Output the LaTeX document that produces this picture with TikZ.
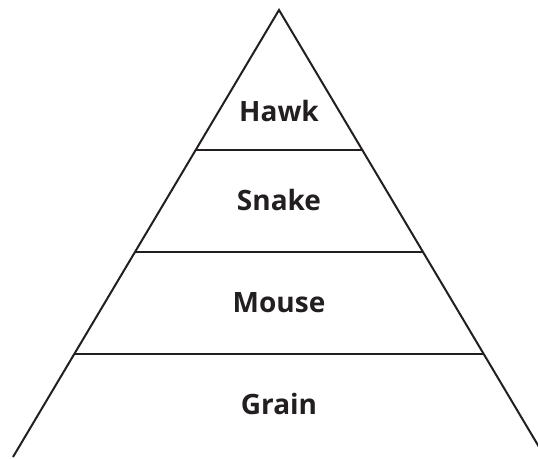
\documentclass[tikz,border=0pt]{standalone}
\usepackage{fontspec}
\setsansfont{Open Sans}
\usetikzlibrary{calc}
\definecolor{ink}{HTML}{231F20}
\begin{document}
\begin{tikzpicture}[x=1pt,y=1pt,
  edge/.style={line width=2pt,ink},
  level/.style={anchor=base,font=\sffamily\bfseries\fontsize{28}{30}\selectfont,text=ink}]
  \useasboundingbox (0,0) rectangle (538,458);
  \clip (0,0) rectangle (538,458);

  \coordinate (A) at (279,448);
  \coordinate (L) at (13,1);
  \coordinate (R) at (545,1);

  \coordinate (L1) at ($(A)!0.3132!(L)$);
  \coordinate (R1) at ($(A)!0.3132!(R)$);
  \coordinate (L2) at ($(A)!0.5414!(L)$);
  \coordinate (R2) at ($(A)!0.5414!(R)$);
  \coordinate (L3) at ($(A)!0.7685!(L)$);
  \coordinate (R3) at ($(A)!0.7685!(R)$);

  \draw[edge,line join=miter] (L) -- (A) -- (R);
  \draw[edge] (L1) -- (R1);
  \draw[edge] (L2) -- (R2);
  \draw[edge] (L3) -- (R3);

  \node[level] (hawk)  at (279,336) {Hawk};
  \node[level] (snake) at (279,247) {Snake};
  \node[level] (mouse) at (279,145) {Mouse};
  \node[level] (grain) at (279,44)  {Grain};
\end{tikzpicture}
\end{document}
